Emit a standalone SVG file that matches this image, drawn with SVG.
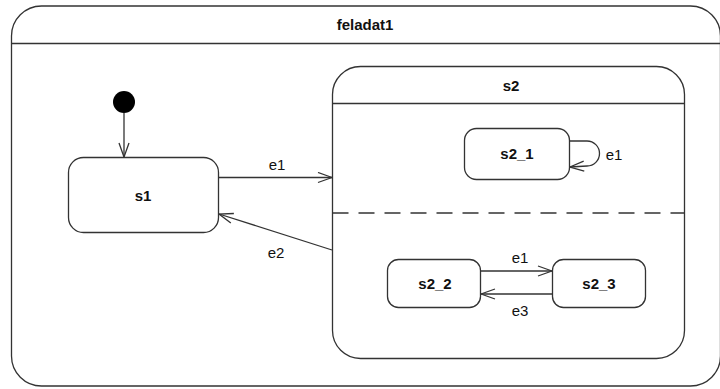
<svg xmlns="http://www.w3.org/2000/svg" width="720" height="389" viewBox="0 0 720 389">
<style>
.box{fill:#fff;stroke:#333;stroke-width:1.3}
.ln{fill:none;stroke:#333;stroke-width:1.3}
.bt{font-family:"Liberation Sans",Arial,sans-serif;font-size:15px;font-weight:bold;fill:#111;text-anchor:middle}
.lt{font-family:"Liberation Sans",Arial,sans-serif;font-size:15px;fill:#111;text-anchor:middle}
</style>
<defs>
<marker id="open" markerWidth="16" markerHeight="12" refX="15" refY="6" orient="auto" markerUnits="userSpaceOnUse">
<path d="M1,1 L15,6 L1,11" fill="none" stroke="#333" stroke-width="1.3"/>
</marker>
</defs>
<rect width="720" height="389" fill="#fff"/>
<g id="feladat1">
<rect class="box" x="11.5" y="6" width="709" height="380" rx="30" ry="30"/>
<line class="ln" x1="11.5" y1="43.5" x2="720" y2="43.5"/>
<text class="bt" x="365" y="30">feladat1</text>
</g>
<g id="initial">
<circle cx="124" cy="102" r="11" fill="#000"/>
</g>
<g id="s1">
<rect class="box" x="68.5" y="157.5" width="150" height="75" rx="15" ry="15"/>
<text class="bt" x="143" y="201">s1</text>
</g>
<g id="s2">
<rect class="box" x="332.5" y="66.5" width="352" height="292" rx="28" ry="28"/>
<line class="ln" x1="332.5" y1="103.5" x2="684.5" y2="103.5"/>
<text class="bt" x="511" y="91">s2</text>
<line class="ln" x1="332.5" y1="213" x2="684.5" y2="213" stroke="#555" stroke-width="2" stroke-dasharray="16,10"/>
</g>
<g id="s2_1">
<rect class="box" x="464.5" y="128.5" width="105" height="51" rx="12" ry="12"/>
<text class="bt" x="517" y="159">s2_1</text>
</g>
<g id="s2_2">
<rect class="box" x="387.5" y="259.5" width="93" height="48" rx="11" ry="11"/>
<text class="bt" x="435" y="289">s2_2</text>
</g>
<g id="s2_3">
<rect class="box" x="552.5" y="259.5" width="93" height="48" rx="11" ry="11"/>
<text class="bt" x="599" y="289">s2_3</text>
</g>
<g id="connectors">
<line class="ln" x1="124" y1="113" x2="124" y2="157" marker-end="url(#open)"/>
<line class="ln" x1="218.5" y1="177.5" x2="332" y2="177.5" marker-end="url(#open)"/>
<text class="lt" x="277" y="170">e1</text>
<line class="ln" x1="332" y1="250" x2="219" y2="214" marker-end="url(#open)"/>
<text class="lt" x="276" y="258">e2</text>
<path class="ln" d="M569.5,141 L587,141 A12.5,12.5 0 0 1 587,166 L570,167" marker-end="url(#open)"/>
<text class="lt" x="614" y="160">e1</text>
<line class="ln" x1="480.5" y1="271" x2="552" y2="271" marker-end="url(#open)"/>
<text class="lt" x="520" y="263">e1</text>
<line class="ln" x1="552.5" y1="294" x2="481" y2="294" marker-end="url(#open)"/>
<text class="lt" x="520" y="316">e3</text>
</g>
</svg>
